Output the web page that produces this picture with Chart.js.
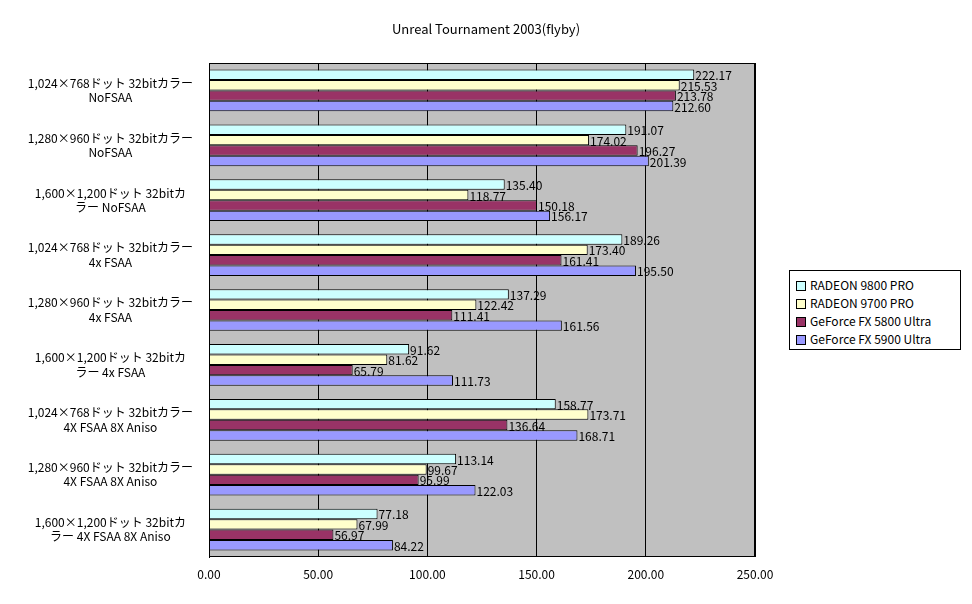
<!DOCTYPE html>
<html>
<head>
<meta charset="utf-8">
<script src="https://cdn.jsdelivr.net/npm/chart.js@4"></script>
<style>
  body { margin: 0; background: #fff; font-family: "Noto Sans CJK JP", sans-serif; }
  #wrap { position: relative; width: 972px; height: 604px; }
  #title { position: absolute; top: 19px; left: 0; width: 972px; text-align: center; font-size: 13px; }
  #legend { position: absolute; left: 789px; top: 270px; width: 172px; height: 80px; border: 1px solid #000;
            background: #fff; font-size: 12px; box-sizing: border-box; padding: 5px 0 0 6px; }
  #legend div { height: 18px; line-height: 18px; }
  #legend span { display: inline-block; width: 8px; height: 8px; border: 1px solid #000; margin-right: 4px; vertical-align: -1px; }
</style>
</head>
<body>
<div id="wrap">
  <div id="title">Unreal Tournament 2003(flyby)</div>
  <canvas id="c" width="972" height="604"></canvas>
  <div id="legend"></div>
</div>
<script>
const categories = [
  ['1,024×768ドット 32bitカラー', 'NoFSAA'],
  ['1,280×960ドット 32bitカラー', 'NoFSAA'],
  ['1,600×1,200ドット 32bitカ', 'ラー NoFSAA'],
  ['1,024×768ドット 32bitカラー', '4x FSAA'],
  ['1,280×960ドット 32bitカラー', '4x FSAA'],
  ['1,600×1,200ドット 32bitカ', 'ラー 4x FSAA'],
  ['1,024×768ドット 32bitカラー', '4X FSAA 8X Aniso'],
  ['1,280×960ドット 32bitカラー', '4X FSAA 8X Aniso'],
  ['1,600×1,200ドット 32bitカ', 'ラー 4X FSAA 8X Aniso']
];
const seriesNames = ['RADEON 9800 PRO', 'RADEON 9700 PRO', 'GeForce FX 5800 Ultra', 'GeForce FX 5900 Ultra'];
const radeon9800 = [222.17, 191.07, 135.40, 189.26, 137.29, 91.62, 158.77, 113.14, 77.18];
const radeon9700 = [215.53, 174.02, 118.77, 173.40, 122.42, 81.62, 173.71, 99.67, 67.99];
const fx5800 = [213.78, 196.27, 150.18, 161.41, 111.41, 65.79, 136.64, 95.99, 56.97];
const fx5900 = [212.60, 201.39, 156.17, 195.50, 161.56, 111.73, 168.71, 122.03, 84.22];
const colors = ['#CCFFFF', '#FFFFCC', '#993366', '#9999FF'];
const allSeries = [radeon9800, radeon9700, fx5800, fx5900];

const legend = document.getElementById('legend');
seriesNames.forEach((n, i) => {
  legend.innerHTML += `<div><span style="background:${colors[i]}"></span>${n}</div>`;
});

const font = { family: '"Noto Sans CJK JP", sans-serif', size: 12 };

// plot background + value labels
const plotBg = {
  id: 'plotBg',
  beforeDraw(chart) {
    const { ctx, chartArea: a } = chart;
    ctx.save();
    ctx.fillStyle = '#C0C0C0';
    ctx.fillRect(a.left, a.top, a.right - a.left, a.bottom - a.top);
    ctx.restore();
  },
  afterDatasetsDraw(chart) {
    const { ctx, chartArea: a } = chart;
    ctx.save();
    ctx.strokeStyle = '#000';
    ctx.lineWidth = 1;
    ctx.strokeRect(a.left + 0.5, a.top + 0.5, a.right - a.left - 1, a.bottom - a.top - 1);
    ctx.font = '12px "Noto Sans CJK JP", sans-serif';
    ctx.fillStyle = '#000';
    ctx.textBaseline = 'middle';
    chart.data.datasets.forEach((ds, i) => {
      chart.getDatasetMeta(i).data.forEach((bar, j) => {
        ctx.fillText(ds.data[j].toFixed(2), bar.x + 1, bar.y + 1);
      });
    });
    ctx.restore();
  }
};

new Chart(document.getElementById('c'), {
  type: 'bar',
  data: {
    labels: categories,
    datasets: allSeries.map((d, i) => ({
      label: seriesNames[i], data: d, backgroundColor: colors[i],
      borderColor: '#000', borderWidth: 1, barPercentage: 1, categoryPercentage: 0.76
    }))
  },
  options: {
    indexAxis: 'y',
    responsive: false,
    animation: false,
    layout: { padding: { top: 63, right: 217, left: 0, bottom: 0 } },
    plugins: { legend: { display: false }, tooltip: { enabled: false } },
    scales: {
      x: {
        min: 0, max: 250,
        ticks: { stepSize: 50, color: '#000', font, callback: v => v.toFixed(2), padding: 10 },
        grid: { color: '#000', drawTicks: false },
        border: { display: false },
        afterFit: s => { s.height = 47; }
      },
      y: {
        ticks: { color: '#000', font, crossAlign: 'center', padding: 8 },
        grid: { display: false },
        border: { color: '#000' },
        afterFit: s => { s.width = 209; }
      }
    }
  },
  plugins: [plotBg]
});
</script>
</body>
</html>
